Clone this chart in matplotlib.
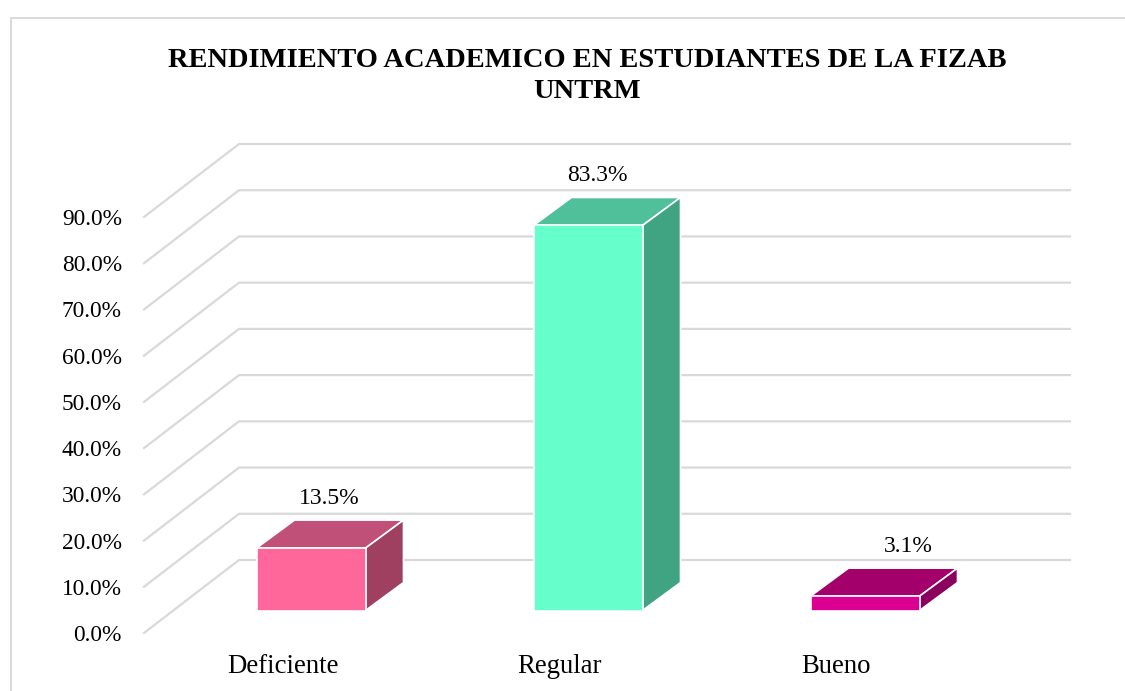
import matplotlib
matplotlib.use("Agg")
import matplotlib.pyplot as plt
from matplotlib.patches import Polygon, Rectangle

categories = ["Deficiente", "Regular", "Bueno"]
values = [13.5, 83.3, 3.1]
value_labels = ["13.5%", "83.3%", "3.1%"]
y_ticks = [0, 10, 20, 30, 40, 50, 60, 70, 80, 90]
y_tick_labels = ["0.0%", "10.0%", "20.0%", "30.0%", "40.0%", "50.0%", "60.0%", "70.0%", "80.0%", "90.0%"]
front_colors = ["#FF6699", "#66FFCC", "#DB0092"]
top_colors = ["#C05078", "#4FC09A", "#A3006C"]
side_colors = ["#A04060", "#40A382", "#8A005C"]
# the data labels were moved by hand in the original, offset in pixels from bar centre
label_shift = [18, 9, 43]

W, H = 1125, 691
plt.rcParams["font.family"] = ["Liberation Serif", "DejaVu Serif"]

fig = plt.figure(figsize=(W / 100, H / 100), dpi=100)
# axes box = front plane of the fake 3d chart, in pixels
ax = fig.add_axes([144 / W, (H - 633) / H, 831 / W, 416 / H])
ax.set_xlim(-0.5, 2.5)
ax.set_ylim(0, 90)

# depth of the floor and of the bars, in data units
px_x = 277.0
px_y = 416 / 90
floor_dx = 95 / px_x
floor_dy = 73 / px_y
bar_dx = 38 / px_x
bar_dy = 28 / px_y
bar_shift = 28.5 / px_x
bar_base = 22.5 / px_y
bar_w = 109 / px_x

grid_color = "#D9D9D9"
for t in y_ticks:
    ax.plot([-0.5, -0.5 + floor_dx, 2.5 + floor_dx], [t, t + floor_dy, t + floor_dy],
            color=grid_color, lw=1.6, clip_on=False, zorder=1, solid_joinstyle="miter")

for i, v in enumerate(values):
    x0 = i + bar_shift - bar_w / 2
    x1 = x0 + bar_w
    y0 = bar_base
    y1 = bar_base + v
    ax.add_patch(Polygon([(x0, y1), (x1, y1), (x1 + bar_dx, y1 + bar_dy), (x0 + bar_dx, y1 + bar_dy)],
                         facecolor=top_colors[i], edgecolor="white", lw=1.2, clip_on=False, zorder=3))
    ax.add_patch(Polygon([(x1, y0), (x1 + bar_dx, y0 + bar_dy), (x1 + bar_dx, y1 + bar_dy), (x1, y1)],
                         facecolor=side_colors[i], edgecolor="white", lw=1.2, clip_on=False, zorder=3))
    ax.add_patch(Rectangle((x0, y0), bar_w, v, facecolor=front_colors[i], edgecolor="white", lw=1.2,
                           clip_on=False, zorder=4))
    ax.text(i + bar_shift + label_shift[i] / px_x, y1 + bar_dy + 4.7, value_labels[i], ha="center", va="center",
            fontsize=17, color="#000000", zorder=5)

ax.set_xticks(range(len(categories)))
ax.set_xticklabels(categories, fontsize=19.3)
ax.set_yticks(y_ticks)
ax.set_yticklabels(y_tick_labels, fontsize=16.8)
ax.tick_params(axis="x", length=0, pad=15)
ax.tick_params(axis="y", length=0, pad=16)
for s in ax.spines.values():
    s.set_visible(False)
ax.patch.set_alpha(0)

fig.text(587 / W, 1 - 76 / H, "RENDIMIENTO ACADEMICO EN ESTUDIANTES DE LA FIZAB\nUNTRM", ha="center", va="center",
         fontsize=20.5, fontweight="bold", linespacing=1.35)

# outer chart frame, only left and top show in the crop
fig.add_artist(plt.Line2D([11 / W, 11 / W, 1 + 5 / W], [0, 1 - 18 / H, 1 - 18 / H],
                          color=grid_color, lw=1.4))

fig.savefig("out.png", dpi=100)
